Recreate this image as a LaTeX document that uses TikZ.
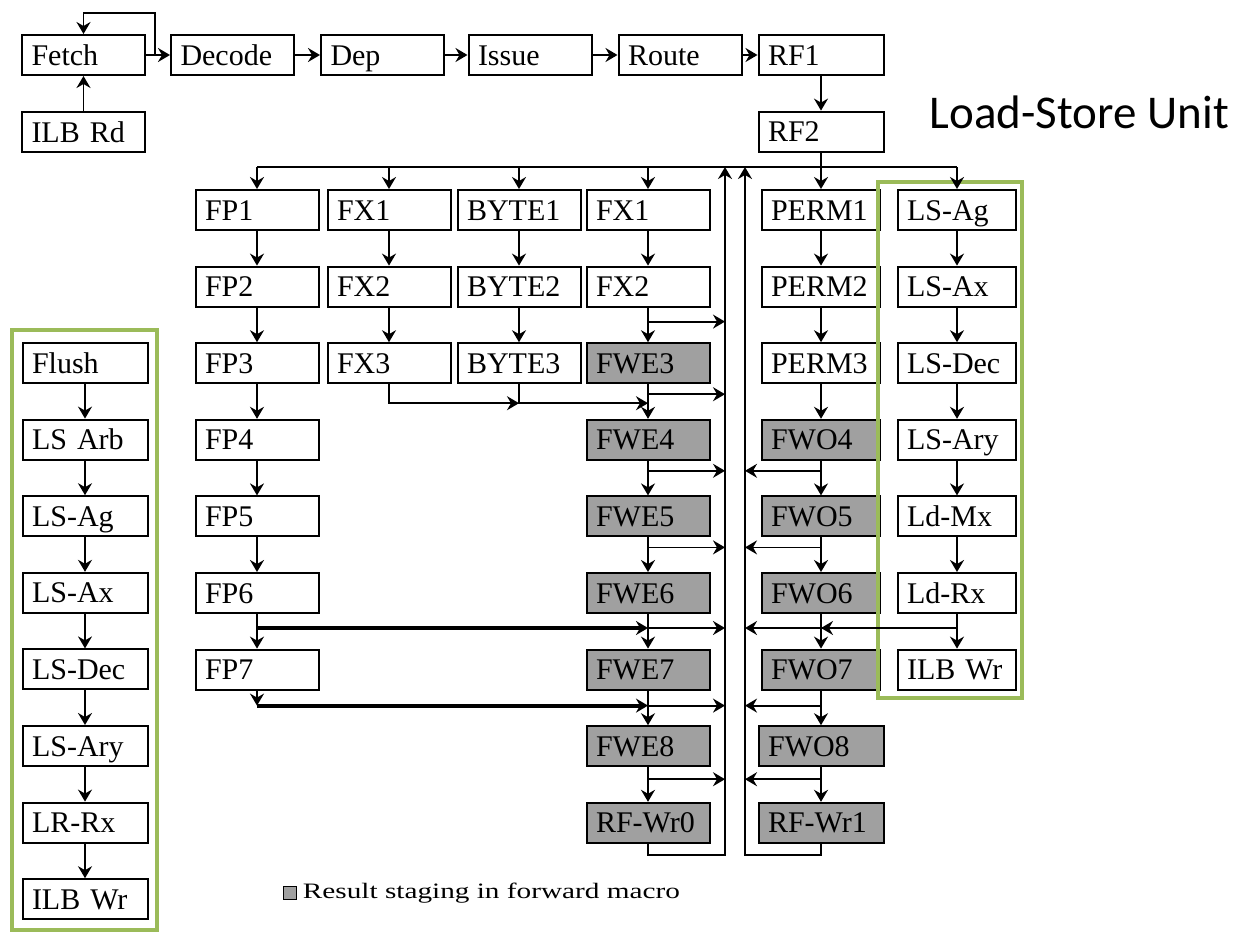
\documentclass[tikz,border=0pt]{standalone}
\usepackage{fontspec}
\setmainfont{Liberation Serif}
\newfontfamily\lsufont{Carlito}
\usepackage{graphicx}
\usetikzlibrary{arrows.meta, positioning, calc}
\definecolor{stagegray}{RGB}{160,160,160}
\definecolor{lsugreen}{RGB}{155,187,89}
\tikzset{
    pipeline/.style={>={Stealth[length=12pt,width=14pt,inset=4pt]}, line width=1.8pt, font=\fontsize{30}{32}\selectfont, node distance=34.6pt},
    stage/.style={draw, line width=2pt, fill=white, minimum height=40pt, text width=104pt, text height=20pt, text depth=0pt, inner xsep=9.5pt, inner ysep=0pt, align=left},
    staged/.style={stage, fill=stagegray},
    narrow/.style={text width=100pt, inner xsep=9pt},
    wide/.style={text width=106pt},
    heavy/.style={line width=3.8pt},
    % green frame round a load-store pipe
    lsframe/.style={draw=lsugreen, line width=4pt},
}

\begin{document}
\begin{tikzpicture}[pipeline, x=1pt, y=-1pt]
    \useasboundingbox (0,0) rectangle (1241,934);

    % front end
    \node[stage]                (fetch)  at (83.5,55)  {Fetch};
    \node[stage]                (decode) at (232.5,55) {Decode};
    \node[stage]                (dep)    at (382.5,55) {Dep};
    \node[stage]                (issue)  at (530,55)   {Issue};
    \node[stage]                (route)  at (680,55)   {Route};
    \node[stage, wide]          (rf1)    at (821,55)   {RF1};
    \node[stage]                (ilbrd)  at (83.5,132) {ILB Rd};
    \node[stage, wide, below=of rf1] (rf2) {RF2};

    % execution pipes
    \node[stage] (fp1) at (257,210) {FP1};
    \node[stage, below=of fp1] (fp2) {FP2};
    \node[stage, below=of fp2] (fp3) {FP3};
    \node[stage, below=of fp3] (fp4) {FP4};
    \node[stage, below=of fp4] (fp5) {FP5};
    \node[stage, below=of fp5] (fp6) {FP6};
    \node[stage, below=of fp6] (fp7) {FP7};

    \node[stage] (fxa1) at (389,210) {FX1};
    \node[stage, below=of fxa1] (fxa2) {FX2};
    \node[stage, below=of fxa2] (fxa3) {FX3};

    \node[stage] (byte1) at (519,210) {BYTE1};
    \node[stage, below=of byte1] (byte2) {BYTE2};
    \node[stage, below=of byte2] (byte3) {BYTE3};

    \node[stage] (fxb1) at (648,210) {FX1};
    \node[stage, below=of fxb1] (fxb2) {FX2};
    \node[staged, below=of fxb2] (fwe3) {FWE3};
    \node[staged, below=of fwe3] (fwe4) {FWE4};
    \node[staged, below=of fwe4] (fwe5) {FWE5};
    \node[staged, below=of fwe5] (fwe6) {FWE6};
    \node[staged, below=of fwe6] (fwe7) {FWE7};
    \node[staged, below=of fwe7] (fwe8) {FWE8};
    \node[staged, below=of fwe8] (rfwr0) {RF-Wr0};

    \node[stage, narrow] (perm1) at (821,210) {PERM1};
    \node[stage, narrow, below=of perm1] (perm2) {PERM2};
    \node[stage, narrow, below=of perm2] (perm3) {PERM3};
    \node[staged, narrow, below=of perm3] (fwo4) {FWO4};
    \node[staged, narrow, below=of fwo4] (fwo5) {FWO5};
    \node[staged, narrow, below=of fwo5] (fwo6) {FWO6};
    \node[staged, narrow, below=of fwo6] (fwo7) {FWO7};
    \node[staged, wide, below=of fwo7] (fwo8) {FWO8};
    \node[staged, wide, below=of fwo8] (rfwr1) {RF-Wr1};

    % load-store unit, right
    \node[stage, narrow] (lsag) at (957,210) {LS-Ag};
    \node[stage, narrow, below=of lsag] (lsax) {LS-Ax};
    \node[stage, narrow, below=of lsax] (lsdec) {LS-Dec};
    \node[stage, narrow, below=of lsdec] (lsary) {LS-Ary};
    \node[stage, narrow, below=of lsary] (ldmx) {Ld-Mx};
    \node[stage, narrow, below=of ldmx] (ldrx) {Ld-Rx};
    \node[stage, narrow, below=of ldrx] (ilbwr) {ILB Wr};

    % load-store unit, left
    \node[stage, wide] (flush) at (85,363) {Flush};
    \node[stage, wide, below=of flush] (lsarb) {LS Arb};
    \node[stage, wide, below=of lsarb] (lsagl) {LS-Ag};
    \node[stage, wide, below=of lsagl] (lsaxl) {LS-Ax};
    \node[stage, wide, below=of lsaxl] (lsdecl) {LS-Dec};
    \node[stage, wide, below=of lsdecl] (lsaryl) {LS-Ary};
    \node[stage, wide, below=of lsaryl] (lrrx) {LR-Rx};
    \node[stage, wide, below=of lrrx] (ilbwrl) {ILB Wr};

    \draw[lsframe] (12,330) rectangle (157,930);
    \draw[lsframe] (878,182) rectangle (1022,698);
    \node[font=\lsufont\fontsize{47}{52}\selectfont, anchor=base west, inner sep=0pt] (lsulabel) at (929,128) {Load-Store Unit};

    % key
    \node[draw, fill=stagegray, line width=1pt, minimum size=13pt, inner sep=0pt] (key) at (290,893) {};
    \node[right=5pt of key, inner sep=0pt, font=\fontsize{22}{24}\selectfont] (keytext) {\scalebox{1.33}[1]{Result staging in forward macro}};

    % front end connections
    \coordinate (fbk) at (155,55);
    \coordinate (loop) at (155,13);
    \draw[->] (fetch) -- (decode);
    \draw[->] (fbk) -- (loop) -| (fetch.north);
    \draw[->] (ilbrd) -- (fetch);
    \draw[->] (decode) -- (dep);
    \draw[->] (dep) -- (issue);
    \draw[->] (issue) -- (route);
    \draw[->] (route) -- (rf1);
    \draw[->] (rf1) -- (rf2);

    % dispatch bus and bypass returns
    \coordinate (bus) at (0,167);
    \coordinate (lbus) at (725,167);
    \coordinate (rbus) at (745,167);
    \coordinate (lbot) at (725,855);
    \coordinate (rbot) at (745,855);
    \draw (fp1.north |- bus) -- (lsag.north |- bus);
    \draw[->] (fp1.north |- bus) -- (fp1);
    \draw[->] (fxa1.north |- bus) -- (fxa1);
    \draw[->] (byte1.north |- bus) -- (byte1);
    \draw[->] (fxb1.north |- bus) -- (fxb1);
    \draw[->] (lsag.north |- bus) -- (lsag);
    \draw[->] (rf2) -- (perm1);
    \draw[->] (rfwr0.south) |- (lbot) -- (lbus);
    \draw[->] (rfwr1.south) |- (rbot) -- (rbus);

    % pipe stages
    \draw[->] (fp1) -- (fp2); \draw[->] (fp2) -- (fp3); \draw[->] (fp3) -- (fp4);
    \draw[->] (fp4) -- (fp5); \draw[->] (fp5) -- (fp6); \draw[->] (fp6) -- (fp7);
    \draw[->] (fxa1) -- (fxa2); \draw[->] (fxa2) -- (fxa3);
    \draw[->] (byte1) -- (byte2); \draw[->] (byte2) -- (byte3);
    \draw[->] (fxb1) -- (fxb2); \draw[->] (fxb2) -- (fwe3); \draw[->] (fwe3) -- (fwe4);
    \draw[->] (fwe4) -- (fwe5); \draw[->] (fwe5) -- (fwe6); \draw[->] (fwe6) -- (fwe7);
    \draw[->] (fwe7) -- (fwe8); \draw[->] (fwe8) -- (rfwr0);
    \draw[->] (perm1) -- (perm2); \draw[->] (perm2) -- (perm3); \draw[->] (perm3) -- (fwo4);
    \draw[->] (fwo4) -- (fwo5); \draw[->] (fwo5) -- (fwo6); \draw[->] (fwo6) -- (fwo7);
    \draw[->] (fwo7) -- (fwo8); \draw[->] (fwo8) -- (rfwr1);
    \draw[->] (lsag) -- (lsax); \draw[->] (lsax) -- (lsdec); \draw[->] (lsdec) -- (lsary);
    \draw[->] (lsary) -- (ldmx); \draw[->] (ldmx) -- (ldrx); \draw[->] (ldrx) -- (ilbwr);
    \draw[->] (flush) -- (lsarb); \draw[->] (lsarb) -- (lsagl); \draw[->] (lsagl) -- (lsaxl);
    \draw[->] (lsaxl) -- (lsdecl); \draw[->] (lsdecl) -- (lsaryl); \draw[->] (lsaryl) -- (lrrx);
    \draw[->] (lrrx) -- (ilbwrl);

    % results forwarded onto the bypass
    \draw[->] ($(fxb2.south)+(0,14)$) coordinate (e2) -- (e2 -| lbus);
    \draw[->] ($(fwe3.south)+(0,10)$) coordinate (e3) -- (e3 -| lbus);
    \draw[->] ($(fwe4.south)+(0,10)$) coordinate (e4) -- (e4 -| lbus);
    \draw[->] ($(fwe5.south)+(0,10)$) coordinate (e5) -- (e5 -| lbus);
    \draw[->] ($(fwe6.south)+(0,14)$) coordinate (e6) -- (e6 -| lbus);
    \draw[->] ($(fwe7.south)+(0,15)$) coordinate (e7) -- (e7 -| lbus);
    \draw[->] ($(fwe8.south)+(0,12)$) coordinate (e8) -- (e8 -| lbus);
    \draw[->] ($(fwo4.south)+(0,10)$) coordinate (o4) -- (o4 -| rbus);
    \draw[->] ($(fwo5.south)+(0,10)$) coordinate (o5) -- (o5 -| rbus);
    \draw[->] ($(fwo7.south)+(0,15)$) coordinate (o7) -- (o7 -| rbus);
    \draw[->] ($(fwo8.south)+(0,12)$) coordinate (o8) -- (o8 -| rbus);
    \draw[->] ($(ldrx.south)+(0,14)$) coordinate (ld) -- (ld -| rbus);
    \draw[->] (ld) -- (ld -| fwo6.south);

    % FX3 and BYTE3 merge into the FWE pipe
    \coordinate (mrg) at ($(fxa3.south)+(0,19)$);
    \draw[->] (fxa3.south) |- (mrg -| byte3.south);
    \draw[->] (byte3.south) -- (mrg -| byte3.south) -- (mrg -| fwe3.south);

    % FP results
    \draw[->, heavy] ($(fp6.south)+(0,14)$) coordinate (p6) -- (p6 -| fwe6.south);
    \draw[->] (fp7) -- ($(fp7.south)+(0,15)$) coordinate (p7);
    \draw[->, heavy] (p7) -- (p7 -| fwe7.south);
\end{tikzpicture}
\end{document}
